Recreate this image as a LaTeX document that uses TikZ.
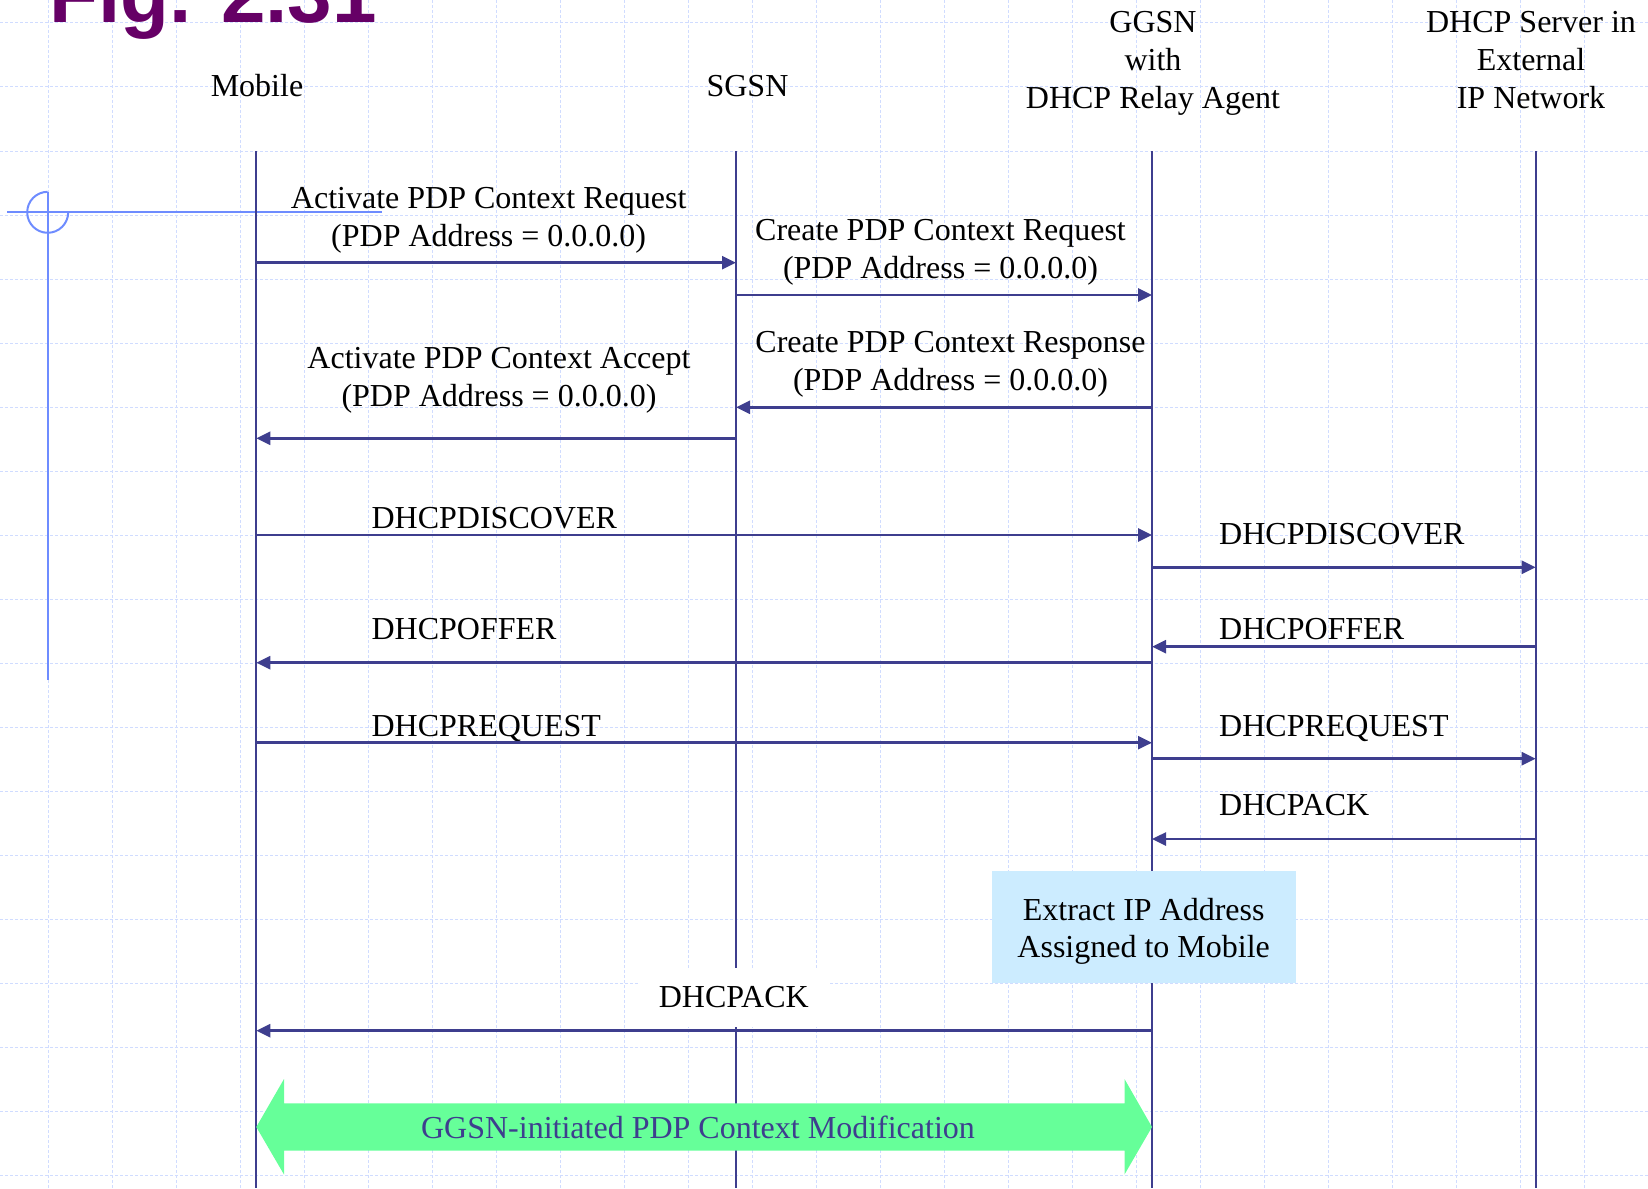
\documentclass[tikz,border=0pt]{standalone}
\usepackage{fontspec}
\setmainfont{Liberation Serif}
\newfontfamily\figfont{Liberation Sans}
\usepackage{tikz}
\usetikzlibrary{arrows.meta,positioning,calc}
\usepackage{xcolor}
\definecolor{linecol}{RGB}{62,62,142}
\definecolor{gridcol}{RGB}{208,220,255}
\definecolor{crosscol}{RGB}{110,140,255}
\definecolor{figcol}{RGB}{102,0,102}
\definecolor{boxcol}{RGB}{204,236,255}
\definecolor{modgreen}{RGB}{102,255,153}

\begin{document}
\begin{tikzpicture}[x=0.5pt,y=-0.5pt]
    \tikzset{
        grid line/.style={gridcol, line width=0.5pt, dash pattern=on 1.5pt off 1pt},
        cross line/.style={crosscol, line width=1pt},
        life line/.style={linecol, line width=1pt},
        msg arrow/.style={-{Triangle[length=7pt,width=6.5pt]}, linecol, line width=1.3pt},
        lbl/.style={inner sep=0pt, font=\fontsize{16}{18.85}\selectfont, anchor=base},
        lbl left/.style={lbl, anchor=base west},
        extract box/.style={fill=boxcol, inner sep=0pt, minimum width=152pt, minimum height=56pt},
    }
    \useasboundingbox (0,0) rectangle (1648,1188);
    \clip (0,0) rectangle (1648,1188);

    % background grid
    \foreach \gx in {48,112,...,1648}
        \draw[grid line] (\gx,0) -- (\gx,1188);
    \foreach \gy in {23,87,...,1188}
        \draw[grid line] (0,\gy) -- (1648,\gy);

    \node[anchor=base west, inner sep=0pt, text=figcol, font=\figfont\bfseries\fontsize{40}{48}\selectfont] (fig-title) at (49,23) {Fig. 2.31};

    % crosshair mark
    \draw[cross line] (7.3,212.3) -- (381.7,212.3);
    \draw[cross line] (47.7,191.8) -- (47.7,680);
    \draw[cross line] (47.7,191.8) arc[start angle=90, end angle=360, radius=10.25pt];

    % entities
    \node[lbl] (mob-name) at (257,96.7) {Mobile};
    \node[lbl] (sgsn-name) at (747.5,96.7) {SGSN};
    \node[lbl] (ggsn-name-1) at (1153,32.5) {GGSN};
    \node[lbl] (ggsn-name-2) at ([yshift=-19pt]ggsn-name-1.base) {with};
    \node[lbl] (ggsn-name-3) at ([yshift=-19pt]ggsn-name-2.base) {DHCP Relay Agent};
    \node[lbl] (dhcp-name-1) at (1531,32.5) {DHCP Server in};
    \node[lbl] (dhcp-name-2) at ([yshift=-19pt]dhcp-name-1.base) {External};
    \node[lbl] (dhcp-name-3) at ([yshift=-19pt]dhcp-name-2.base) {IP Network};

    \coordinate (mob) at (256.3,151);
    \coordinate (sgsn) at (736,151);
    \coordinate (ggsn) at (1152,151);
    \coordinate (dhcp) at (1535.7,151);

    \draw[life line] (mob) -- (mob |- 0,1188);
    \draw[life line] (sgsn) -- (sgsn |- 0,1188);
    \draw[life line] (ggsn) -- (ggsn |- 0,1188);
    \draw[life line] (dhcp) -- (dhcp |- 0,1188);

    % PDP context activation
    \node[lbl] (act-req-1) at (488.7,208.5) {Activate PDP Context Request};
    \node[lbl] (act-req-2) at ([yshift=-18.85pt]act-req-1.base) {(PDP Address = 0.0.0.0)};
    \draw[msg arrow] (mob |- 0,262.7) -- (sgsn |- 0,262.7);

    \node[lbl] (cre-req-1) at (940.5,240.7) {Create PDP Context Request};
    \node[lbl] (cre-req-2) at ([yshift=-18.85pt]cre-req-1.base) {(PDP Address = 0.0.0.0)};
    \draw[msg arrow] (sgsn |- 0,295) -- (ggsn |- 0,295);

    \node[lbl] (cre-rsp-1) at (950.5,352.3) {Create PDP Context Response};
    \node[lbl] (cre-rsp-2) at ([yshift=-18.85pt]cre-rsp-1.base) {(PDP Address = 0.0.0.0)};
    \draw[msg arrow] (ggsn |- 0,407.3) -- (sgsn |- 0,407.3);

    \node[lbl] (act-acc-1) at (499,368.5) {Activate PDP Context Accept};
    \node[lbl] (act-acc-2) at ([yshift=-18.85pt]act-acc-1.base) {(PDP Address = 0.0.0.0)};
    \draw[msg arrow] (sgsn |- 0,438.3) -- (mob |- 0,438.3);

    % DHCP exchange
    \node[lbl left] (disc-1) at (371.2,528.3) {DHCPDISCOVER};
    \draw[msg arrow] (mob |- 0,535) -- (ggsn |- 0,535);
    \node[lbl left] (disc-2) at (1218.8,544) {DHCPDISCOVER};
    \draw[msg arrow] (ggsn |- 0,567.3) -- (dhcp |- 0,567.3);

    \node[lbl left] (offer-2) at (1218.8,639.5) {DHCPOFFER};
    \draw[msg arrow] (dhcp |- 0,646.7) -- (ggsn |- 0,646.7);
    \node[lbl left] (offer-1) at (371.2,639.5) {DHCPOFFER};
    \draw[msg arrow] (ggsn |- 0,662.7) -- (mob |- 0,662.7);

    \node[lbl left] (reqst-1) at (371.2,736) {DHCPREQUEST};
    \draw[msg arrow] (mob |- 0,742.7) -- (ggsn |- 0,742.7);
    \node[lbl left] (reqst-2) at (1218.8,736) {DHCPREQUEST};
    \draw[msg arrow] (ggsn |- 0,758.7) -- (dhcp |- 0,758.7);

    \node[lbl left] (ack-2) at (1218.8,815) {DHCPACK};
    \draw[msg arrow] (dhcp |- 0,839) -- (ggsn |- 0,839);

    \node[extract box] (extract) at (1143.7,927) {};
    \node[lbl] (extract-1) at (1143.7,920) {Extract IP Address};
    \node[lbl] (extract-2) at ([yshift=-18.85pt]extract-1.base) {Assigned to Mobile};

    \node[lbl, anchor=center, fill=white, minimum width=96pt, minimum height=29.5pt] (ack-1) at (733.8,997.5) {DHCPACK};
    \draw[msg arrow] (ggsn |- 0,1030.7) -- (mob |- 0,1030.7);

    % modification band
    \fill[modgreen] (mob |- 0,1127) -- (284,1079) -- (284,1103.3) -- (1124.5,1103.3) -- (1124.5,1079)
        -- (ggsn |- 0,1127) -- (1124.5,1174.5) -- (1124.5,1150.7) -- (284,1150.7) -- (284,1174.5) -- cycle;
    \node[lbl, text=linecol] (mod) at (698,1138.3) {GGSN-initiated PDP Context Modification};

\end{tikzpicture}
\end{document}
